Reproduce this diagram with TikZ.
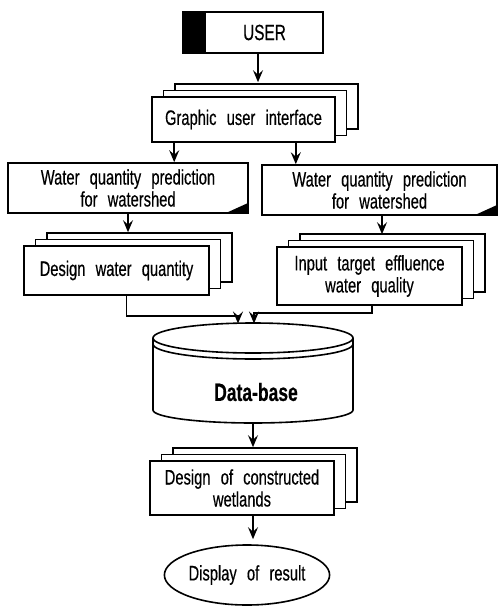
\documentclass[tikz,border=0pt]{standalone}
\usepackage{fontspec}
\setmainfont{Liberation Sans}[FakeStretch=0.70,WordSpace=2.5,FakeBold=0.4]
\usetikzlibrary{arrows.meta,shadows,shapes.geometric,calc}

\begin{document}
\begin{tikzpicture}[x=1pt,y=-1pt,
  line width=1.6pt,
  every node/.style={font=\fontsize{21}{22}\selectfont},
  arr/.style={-{Stealth[length=12pt,width=10pt,inset=4.5pt]}},
  card/.style={draw, fill=white, inner sep=2pt, align=center},
  cardstack/.style={card,
    copy shadow={shadow xshift=23pt,shadow yshift=13pt},
    copy shadow={shadow xshift=11.5pt,shadow yshift=6.5pt}},
  userbox/.style={draw, fill=white, inner sep=0pt,
    minimum width=140pt, minimum height=41pt,
    font=\fontsize{22}{23}\selectfont,
    path picture={\fill[black] (path picture bounding box.south west)
      rectangle ([xshift=23pt]path picture bounding box.north west);}},
  predbox/.style={card, minimum height=50pt,
    path picture={\fill[black] (path picture bounding box.south east)
      -- ++(-22pt,0pt) -- ++(22pt,10pt) -- cycle;}},
  terminal/.style={draw, ellipse, inner sep=0pt,
    minimum width=160pt, minimum height=60pt}
]
\useasboundingbox (0,0) rectangle (499,607);

% user and interface
\node[userbox] (user) at (253,32.5) {\hspace*{23pt}USER};
\node[cardstack, minimum width=183pt, minimum height=45pt] (gui)
  at (243.5,119.5) {Graphic user interface};

% prediction boxes
\node[predbox, minimum width=240pt] (wq1) at (128,188)
  {Water quantity prediction\\for watershed};
\node[predbox, minimum width=235pt] (wq2) at (379.5,190)
  {Water quantity prediction\\for watershed};

% input stacks
\node[cardstack, minimum width=185pt, minimum height=49pt] (dw)
  at (116.5,270.5) {Design water quantity};
\node[cardstack, minimum width=185pt, minimum height=58pt] (it)
  at (369.5,276) {Input target effluence\\water quality};

% database cylinder
\draw[fill=white] (253,338) ellipse [x radius=100pt, y radius=15pt];
\draw (153,344) .. controls (153,352.3) and (197.8,359) .. (253,359)
                .. controls (308.2,359) and (353,352.3) .. (353,344);
\draw (153,338) -- (153,410)
      .. controls (153,417.2) and (197.8,423) .. (253,423)
      .. controls (308.2,423) and (353,417.2) .. (353,410) -- (353,338);
\node[font=\bfseries\fontsize{25}{27}\selectfont] (db) at (256,392) {Data-base};
\coordinate (dbtop) at (253,323.5);
\coordinate (dbbot) at (253,423);

% design and result
\node[cardstack, minimum width=184pt, minimum height=54pt] (wl)
  at (242,488) {Design of constructed\\wetlands};
\node[terminal] (disp) at (247,575) {Display of result};

% connectors
\coordinate (u1) at ([xshift=5pt]user.south);
\coordinate (guitop) at ([yshift=14pt]gui.north);
\draw[arr] (u1) -- (u1 |- guitop);

\coordinate (g1) at ([xshift=23pt]gui.south west);
\coordinate (g2) at ([xshift=-40pt]gui.south east);
\draw[arr] (g1) -- (g1 |- wq1.north);
\draw[arr] (g2) -- (g2 |- wq2.north);

\coordinate (w1) at (wq1.south);
\coordinate (dwtop) at ([yshift=13pt]dw.north);
\draw[arr] (w1) -- (w1 |- dwtop);
\coordinate (w2) at ([xshift=2.5pt]wq2.south);
\coordinate (ittop) at ([yshift=12pt]it.north);
\draw[arr] (w2) -- (w2 |- ittop);

\draw[arr] ([xshift=10pt]dw.south) -- ++(0,20) -| ([xshift=-15pt]dbtop);
\draw[arr] ([xshift=2.5pt]it.south) -- ++(0,7) -| ([xshift=1pt]dbtop);

\coordinate (wltop) at ([yshift=13pt]wl.north);
\draw[arr] (dbbot) -- (dbbot |- wltop);

\coordinate (wlout) at ([xshift=11pt]wl.south);
\draw[arr, shorten >=5pt] (wlout) -- (wlout |- disp.north);
\end{tikzpicture}
\end{document}
